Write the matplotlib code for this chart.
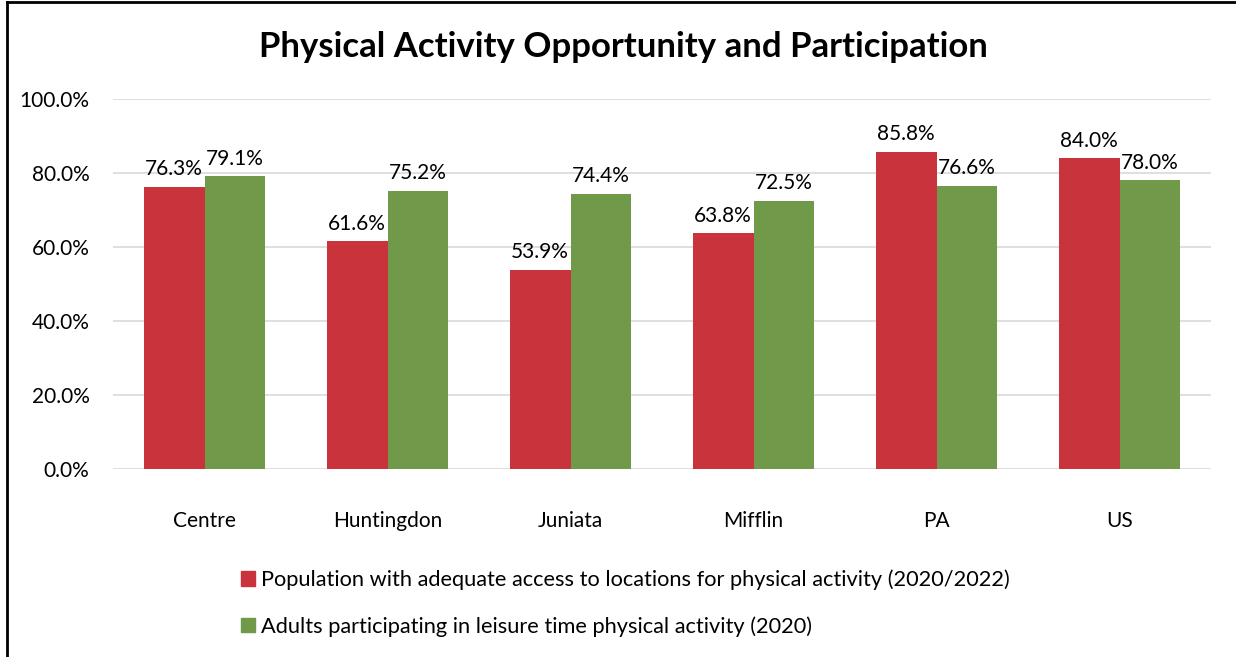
import matplotlib.pyplot as plt
import numpy as np
from matplotlib.lines import Line2D
from matplotlib.patches import Patch

plt.rcParams['font.family'] = ['Lato', 'DejaVu Sans']

regioes = ['Centre', 'Huntingdon', 'Juniata', 'Mifflin', 'PA', 'US']
acesso = [76.3, 61.6, 53.9, 63.8, 85.8, 84.0]
lazer = [79.1, 75.2, 74.4, 72.5, 76.6, 78.0]
rotulos = ['Population with adequate access to locations for physical activity (2020/2022)',
           'Adults participating in leisure time physical activity (2020)']
cores = ['#C9333B', '#70994A']

fig = plt.figure(figsize=(12.36, 6.57), dpi=100)
ax = fig.add_axes([113/1236, 1 - 469/657, 1098/1236, 370/657])

x = np.arange(len(regioes))
width = 0.333
r1 = ax.bar(x - width/2, acesso, width, color=cores[0], zorder=3)
r2 = ax.bar(x + width/2, lazer, width, color=cores[1], zorder=3)

for rects in (r1, r2):
    for r in rects:
        ax.text(r.get_x() + r.get_width()/2, r.get_height() + 2.0,
                f'{r.get_height():.1f}%', ha='center', va='bottom', fontsize=15)

ax.set_xlim(-0.5, 5.5)
ax.set_ylim(0, 100)
ax.set_yticks(np.arange(0, 101, 20))
ax.set_yticklabels([f'{v:.1f}%' for v in range(0, 101, 20)])
ax.set_xticks(x)
ax.set_xticklabels(regioes)
ax.tick_params(axis='both', length=0, labelsize=15)
ax.tick_params(axis='x', pad=30)
ax.tick_params(axis='y', pad=17)
ax.grid(axis='y', color='#D9D9D9', linewidth=1.2, zorder=0)
for s in ax.spines.values():
    s.set_visible(False)

fig.text(0.504, 1 - 47/657, 'Physical Activity Opportunity and Participation',
         ha='center', va='center', fontsize=25, fontweight='bold')

handles = [Patch(color=c) for c in cores]
fig.legend(handles, rotulos, loc='center', bbox_to_anchor=(0.506, 1 - 603/657),
           ncol=1, frameon=False, fontsize=15.7, handlelength=0.65, handleheight=0.65,
           handletextpad=0.3, labelspacing=1.2)

# moldura (só esquerda e topo aparecem no recorte)
fig.add_artist(Line2D([7/1236, 7/1236], [0, 1 - 2/657], color='black', linewidth=2))
fig.add_artist(Line2D([7/1236, 1], [1 - 2/657, 1 - 2/657], color='black', linewidth=2))

fig.savefig('out.png', dpi=100)
